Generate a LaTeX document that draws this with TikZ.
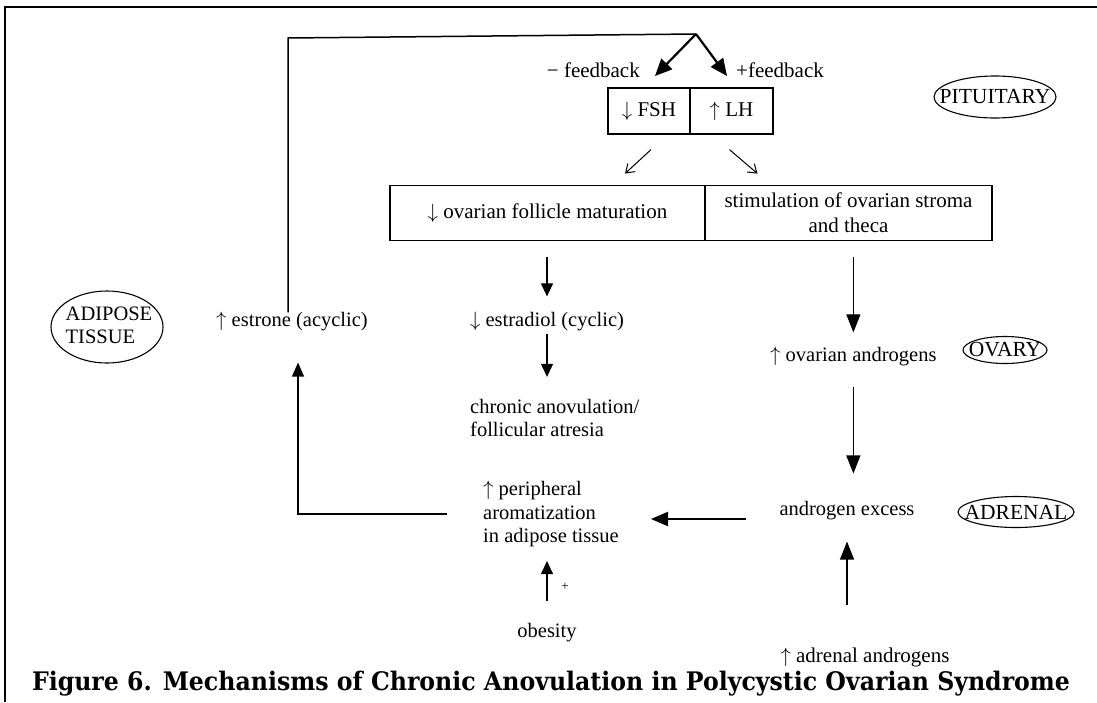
\documentclass[tikz,border=0pt]{standalone}
\usepackage{fontspec}
\usepackage{graphicx}
\setmainfont{Liberation Serif}
\newfontfamily\capfont{DejaVu Serif}
\usetikzlibrary{arrows.meta,shapes.geometric}
\newcommand{\up}{\(\uparrow\)}
\newcommand{\dn}{\(\downarrow\)}
\begin{document}
\begin{tikzpicture}[x=1pt,y=-1pt,
  txt/.style={font=\fontsize{20.5}{23.5}\selectfont, inner sep=0pt, align=left},
  cell/.style={draw, line width=1.2pt, inner sep=0pt, font=\fontsize{21}{25}\selectfont, align=center},
  organ/.style={inner sep=0pt, font=\fontsize{21.5}{22}\selectfont, align=left},
  oval/.style={line width=1.1pt},
  line/.style={line width=1.5pt},
  arr/.style={line width=1.1pt, -{Triangle[length=13pt,width=12pt]}},
  bigarr/.style={line width=1.1pt, -{Triangle[length=18pt,width=14pt]}},
  fbarr/.style={line width=2.2pt, -{Triangle[length=17pt,width=15pt]}},
  thinarr/.style={line width=1pt, -{Straight Barb[length=8pt,width=11pt]}},
]
\useasboundingbox (0,0) rectangle (1097,702);
% frame
\draw[line width=1.5pt] (5,702) -- (5,7) -- (1097,7);

% pituitary level
\node[cell, minimum width=82pt, minimum height=46pt] (fsh) at (649,111) {\dn\ FSH};
\node[cell, minimum width=83pt, minimum height=46pt] (lh) at (731.5,111) {\up\ LH};
\node[txt, anchor=east, font=\fontsize{21}{24}\selectfont] (fbm) at (640,70) {− feedback};
\node[txt, anchor=west, font=\fontsize{21}{24}\selectfont] (fbp) at (736,70) {+feedback};
\node[organ] (pit) at (995,97) {PITUITARY};
\draw[oval] (pit.center) ellipse [x radius=61, y radius=21];

% ovary level box
\node[cell, minimum width=315pt, minimum height=55pt] (cellL) at (547.5,213) {\dn\ ovarian follicle maturation};
\node[cell, minimum width=287pt, minimum height=55pt] (cellR) at (848.5,213) {stimulation of ovarian stroma\\and theca};

% left column
\node[txt] (estradiol) at (547,322) {\dn\ estradiol (cyclic)};
\node[txt, anchor=west] (chronic) at (470,418) {chronic anovulation/\\follicular atresia};
\node[txt] (estrone) at (292,322) {\up\ estrone (acyclic)};
\node[organ, font=\fontsize{20.5}{23}\selectfont] (adipose) at (109,325) {ADIPOSE\\TISSUE};
\draw[oval] (107,327) ellipse [x radius=56, y radius=36];
\node[txt, anchor=west] (periph) at (483,514) {\up\ peripheral\\aromatization\\in adipose tissue};
\node[txt] (obesity) at (547,633) {obesity};
\node[txt, font=\fontsize{13}{15}\selectfont] (plus) at (565,587) {+};

% right column
\node[txt, anchor=west] (ovandro) at (770,357) {\up\ ovarian androgens};
\node[organ] (ovary) at (1005,350) {OVARY};
\draw[oval] (ovary.center) ellipse [x radius=42, y radius=13.5];
\node[txt] (excess) at (847,511) {androgen excess};
\node[organ] (adrenal) at (1016,512) {ADRENAL};
\draw[oval] (adrenal.center) ellipse [x radius=58, y radius=15.5];
\node[txt, font=\fontsize{21}{24}\selectfont] (adrandro) at (865,657) {\up\ adrenal androgens};

% caption
\node[inner sep=0pt, font=\capfont\bfseries\fontsize{20}{24}\selectfont] (cap) at (551,684) {\scalebox{1}[1.08]{\resizebox{1038pt}{!}{Figure 6. Mechanisms of Chronic Anovulation in Polycystic Ovarian Syndrome}}};

% feedback loop
\coordinate (corner) at (288,38);
\coordinate (apex) at (696,34);
\coordinate (fbL) at (655,76);
\coordinate (fbR) at (727,76);
\draw[line, shorten <=29pt] ([xshift=-4pt]estrone.north) -- (estrone.north -| corner) -- (corner) -- (apex);
\draw[fbarr] (apex) -- (fbL);
\draw[fbarr] (apex) -- (fbR);

% from FSH / LH
\draw[thinarr] ([shift={(2,15)}]fsh.south) -- ++(-26,24);
\draw[thinarr] ([shift={(-2,15)}]lh.south) -- ++(28,24);

% left chain
\draw[arr, shorten <=16pt, shorten >=16pt] (cellL.south -| estradiol.north) -- (estradiol.north);
\draw[arr, shorten <=2pt, shorten >=22pt] (estradiol.south) -- (estradiol.south |- chronic.north);

% right chain
\draw[bigarr, shorten <=16pt, shorten >=15pt] (ovandro.north |- cellR.south) -- (ovandro.north);
\draw[bigarr, shorten <=20pt, shorten >=28pt] (ovandro.south) -- (ovandro.south |- excess.north);
\draw[bigarr, shorten <=42pt, shorten >=21pt] (adrandro.north -| excess.south) -- (excess.south);

% to peripheral aromatization
\coordinate (pin) at (651,519);
\draw[line width=2pt, -{Triangle[length=17pt,width=14pt]}, shorten <=33pt] (excess.west |- pin) -- (pin);
\draw[line width=1.3pt, -{Triangle[length=14pt,width=12pt]}, shorten <=36pt, shorten >=31pt] (periph.west) -| ([xshift=6pt]estrone.south);
\draw[arr, shorten <=22pt, shorten >=14pt] (obesity.north) -- (obesity.north |- periph.south);
\end{tikzpicture}
\end{document}
